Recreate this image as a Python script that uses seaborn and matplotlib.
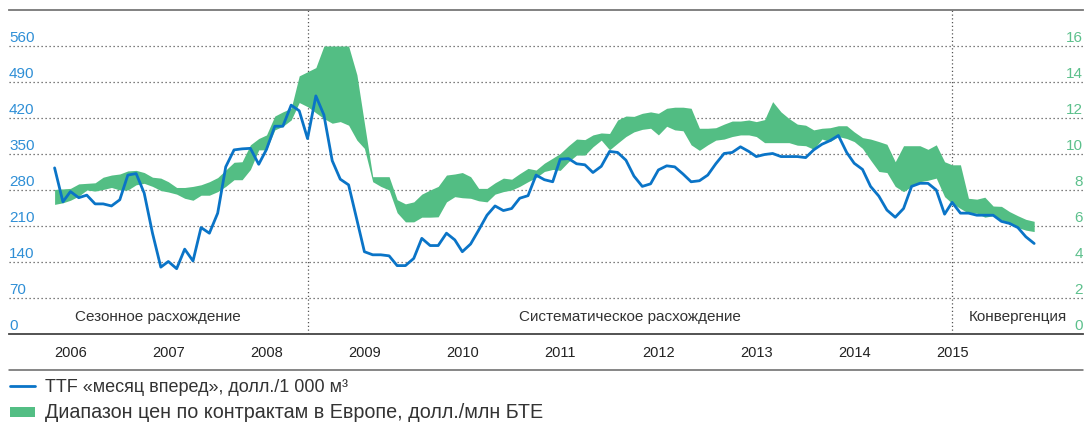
import pandas as pd
import matplotlib.pyplot as plt
import matplotlib.transforms as mtransforms
from matplotlib.lines import Line2D
from matplotlib.patches import Patch
import seaborn as sns

# monthly data, Jan 2006 .. Jan 2016
months = pd.date_range('2006-01-01', '2016-01-01', freq='MS')

# TTF month-ahead, $/1000 m3
ttf = [323, 257, 277, 265, 270, 253, 253, 249, 261, 309, 312, 274, 196, 130, 141, 127, 165, 142, 207, 196,
       235, 325, 358, 360, 361, 330, 359, 404, 404, 445, 434, 380, 463, 426, 337, 301, 290, 222, 160, 154,
       154, 152, 133, 133, 147, 186, 172, 172, 196, 183, 160, 175, 202, 231, 249, 240, 244, 264, 269, 309,
       300, 296, 340, 341, 331, 329, 314, 326, 355, 353, 338, 307, 287, 292, 319, 327, 325, 311, 296, 298,
       309, 331, 351, 353, 364, 355, 345, 349, 351, 345, 345, 345, 343, 358, 369, 376, 386, 353, 332, 320,
       287, 268, 241, 227, 244, 287, 293, 293, 280, 233, 256, 235, 235, 231, 231, 231, 219, 215, 207, 189,
       176]

# European contract price range, $/MMBtu
band_high = [8.03, 8.06, 8.09, 8.34, 8.37, 8.40, 8.71, 8.83, 8.89, 9.06, 9.09, 8.97, 8.71, 8.66, 8.46, 8.14,
             8.14, 8.20, 8.29, 8.46, 8.69, 9.11, 9.54, 9.57, 10.51, 10.86, 11.06, 12.11, 12.34, 12.54, 14.34,
             14.57, 14.80, 16.0, 16.0, 16.0, 16.0, 14.40, 11.71, 8.74, 8.74, 8.74, 7.46, 7.23, 7.34, 7.77,
             8.00, 8.20, 8.83, 8.89, 8.97, 8.74, 8.09, 8.09, 8.40, 8.66, 8.60, 8.91, 9.20, 9.11, 9.49, 9.77,
             10.03, 10.46, 10.83, 10.80, 11.06, 11.17, 11.14, 11.89, 12.11, 12.09, 12.26, 12.34, 12.26, 12.54,
             12.60, 12.60, 12.54, 11.43, 11.43, 11.46, 11.66, 11.83, 11.83, 11.89, 11.80, 11.91, 12.91, 12.34,
             11.97, 11.66, 11.60, 11.34, 11.43, 11.46, 11.57, 11.57, 11.23, 10.91, 10.83, 10.69, 10.54, 9.57,
             10.46, 10.46, 10.46, 10.26, 10.51, 9.57, 9.40, 9.40, 7.54, 7.49, 7.60, 7.11, 7.09, 6.80, 6.57,
             6.37, 6.26]
band_low = [7.20, 7.29, 7.43, 7.66, 8.00, 7.94, 8.03, 8.14, 8.00, 8.00, 8.29, 8.37, 8.20, 7.97, 7.89, 7.77,
            7.54, 7.43, 7.71, 7.71, 7.91, 8.20, 8.57, 8.57, 9.14, 10.23, 10.23, 11.34, 11.54, 11.89, 12.86,
            12.63, 12.29, 11.97, 11.71, 11.80, 11.60, 10.77, 10.31, 8.46, 8.20, 8.00, 6.74, 6.23, 6.23, 6.49,
            6.49, 6.51, 7.34, 7.63, 7.57, 7.54, 7.40, 7.34, 7.77, 7.91, 8.00, 8.20, 8.46, 8.69, 9.03, 9.14,
            9.09, 9.57, 9.94, 9.94, 10.40, 10.77, 10.23, 10.60, 10.97, 11.23, 11.37, 11.43, 11.06, 11.54,
            11.34, 11.29, 10.51, 10.20, 10.51, 10.77, 10.83, 10.97, 11.06, 11.06, 10.97, 10.63, 10.63, 10.63,
            10.63, 10.49, 10.46, 10.26, 10.83, 10.69, 10.97, 10.86, 10.69, 10.31, 9.66, 9.03, 8.97, 8.20,
            7.91, 8.20, 8.46, 8.54, 8.66, 7.63, 7.26, 6.97, 6.71, 6.71, 6.49, 6.57, 6.34, 6.11, 5.91, 5.77,
            5.69]

left_ticks = [0, 70, 140, 210, 280, 350, 420, 490, 560]
right_ticks = [0, 2, 4, 6, 8, 10, 12, 14, 16]
years = list(range(2006, 2016))

phase_edges = ['2005-07-15', '2008-08-01', '2015-03-01', '2016-07-01']
phase_names = ['Сезонное расхождение', 'Систематическое расхождение', 'Конвергенция']

legend_labels = ['TTF «месяц вперед», долл./1 000 м³',
                 'Диапазон цен по контрактам в Европе, долл./млн БТЕ']

BLUE = '#0a74c7'
BLUE_TXT = '#2f8fd6'
GREEN = '#53be84'
GREEN_TXT = '#5cc08c'
DARK = '#333333'

sns.set_style('white')
plt.rcParams['font.family'] = ['Liberation Sans', 'DejaVu Sans']

W, H = 1085, 430
fig = plt.figure(figsize=(W / 100, H / 100), dpi=100)
ax = fig.add_axes([9 / W, 1 - 334 / H, (1083 - 9) / W, (334 - 10) / H])
ax2 = ax.twinx()

edges = pd.to_datetime(phase_edges)
ax.set_xlim(edges[0], edges[-1])
ax.set_ylim(0, 630)
ax2.set_ylim(0, 18)

# dotted grid under the band
for v in right_ticks[1:]:
    ax2.axhline(v, color='#555555', lw=0.9, ls=(0, (1, 2.2)), zorder=0)
for d in edges[1:-1]:
    ax2.axvline(d, color='#555555', lw=0.9, ls=(0, (1, 2.0)), zorder=0)

ax2.fill_between(months, band_low, band_high, color=GREEN, lw=0, zorder=1)
sns.lineplot(x=months, y=ttf, ax=ax, color=BLUE, lw=2.0)
ax.set_zorder(ax2.get_zorder() + 1)
ax.patch.set_visible(False)

for a in (ax, ax2):
    a.set_xticks([])
    a.set_yticks([])
    a.set_xlabel('')
    a.set_ylabel('')
    for s in a.spines.values():
        s.set_visible(False)
ax.spines['top'].set_visible(True)
ax.spines['top'].set_color('#777777')
ax.spines['top'].set_linewidth(1.3)
ax.spines['bottom'].set_visible(True)
ax.spines['bottom'].set_color('#444444')
ax.spines['bottom'].set_linewidth(1.3)

# axis labels sitting on top of the gridlines
tl = mtransforms.offset_copy(mtransforms.blended_transform_factory(ax.transAxes, ax.transData),
                             fig=fig, y=4, units='dots')
tr = mtransforms.offset_copy(mtransforms.blended_transform_factory(ax2.transAxes, ax2.transData),
                             fig=fig, y=4, units='dots')
for v in left_ticks:
    ax.text(0.0, v, str(v), transform=tl, ha='left', va='baseline', color=BLUE_TXT, fontsize=11)
for v in right_ticks:
    ax2.text(1.0, v, str(v), transform=tr, ha='right', va='baseline', color=GREEN_TXT, fontsize=11)

tx = mtransforms.blended_transform_factory(ax.transData, ax.transAxes)
for y in years:
    ax.text(pd.Timestamp(f'{y}-01-01'), -0.058, str(y), transform=tx,
            ha='left', va='center', fontsize=10.5, color='#222222')

for name, a, b in zip(phase_names, edges[:-1], edges[1:]):
    ax.text(a + (b - a) / 2, 0.052, name, transform=tx, ha='center', va='center',
            fontsize=11, color=DARK)

fig.add_artist(Line2D([9 / W, 1083 / W], [1 - 370 / H] * 2, color='#666666', lw=1.1))

handles = [Line2D([0], [0], color=BLUE, lw=2.0), Patch(color=GREEN, lw=0)]
leg = fig.legend(handles, legend_labels, loc='upper left', bbox_to_anchor=(10 / W, 1 - 379 / H),
                 frameon=False, fontsize=13, handlelength=1.4, handleheight=0.5, handletextpad=0.55,
                 borderaxespad=0, borderpad=0, labelspacing=0.4, labelcolor=DARK)
leg.get_texts()[1].set_fontsize(14.2)

fig.savefig('out.png', dpi=100)
